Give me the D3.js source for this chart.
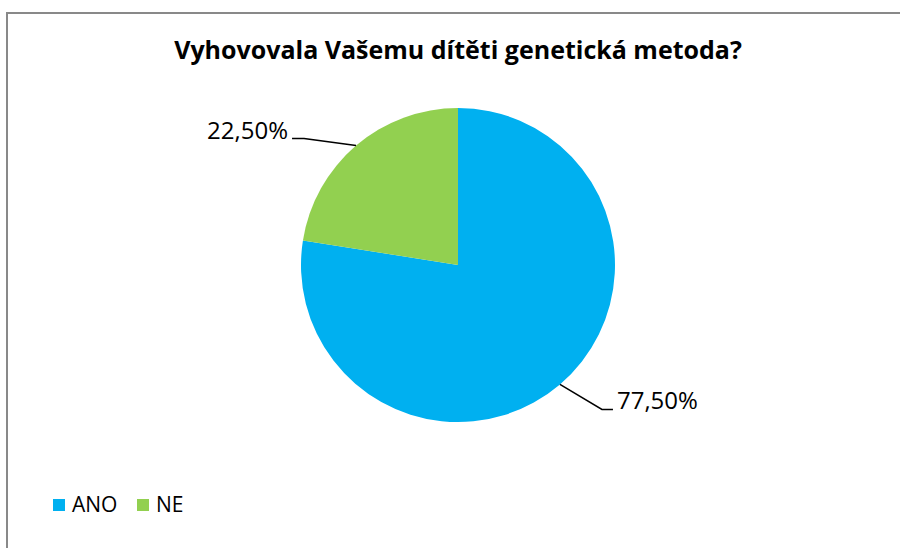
<!DOCTYPE html>
<meta charset="utf-8">
<title>Vyhovovala Vašemu dítěti genetická metoda?</title>
<style>
body { margin: 0; background: #fff; }
svg { display: block; }
text { font-family: "Open Sans", "Liberation Sans", sans-serif; fill: #000; }
</style>
<svg width="900" height="548"></svg>
<script src="https://cdn.jsdelivr.net/npm/d3@7"></script>
<script>

// chart data
var categories = ["ANO", "NE"];
var values = [77.5, 22.5];
var colors = ["#00B0F0", "#92D050"];
var title = "Vyhovovala Vašemu dítěti genetická metoda?";

var svg = d3.select("svg"),
    width = +svg.attr("width"),
    height = +svg.attr("height");

// czech number format, comma as decimal mark
var cz = d3.formatLocale({decimal: ",", thousands: " ", grouping: [3], currency: ["", " Kč"]});
var fmt = function(v) { return cz.format(".2f")(v) + "%"; };

// chart area frame (runs off the right and bottom edge)
svg.append("rect")
    .attr("x", 7)
    .attr("y", 13)
    .attr("width", width + 20)
    .attr("height", height + 20)
    .attr("fill", "none")
    .attr("stroke", "#898989")
    .attr("stroke-width", 2);

svg.append("text")
    .attr("x", 458)
    .attr("y", 59)
    .attr("text-anchor", "middle")
    .attr("font-weight", "bold")
    .attr("font-size", 25)
    .text(title);

var cx = 458, cy = 265, r = 157;

var pie = d3.pie().sort(null).value(function(d) { return d; });
var arcs = pie(values);
var arc = d3.arc().innerRadius(0).outerRadius(r);
var edge = d3.arc().innerRadius(r).outerRadius(r);

var g = svg.append("g").attr("transform", "translate(" + cx + "," + cy + ")");

g.selectAll("path")
  .data(arcs)
  .enter().append("path")
    .attr("d", arc)
    .attr("fill", function(d, i) { return colors[i]; });

// leader line elbows, relative to the slice edge point
var elbow = [[42, 25], [-52, -7]];
var tail = [11, -12];

arcs.forEach(function(d, i) {
  var p = edge.centroid(d);
  var e = [p[0] + elbow[i][0], p[1] + elbow[i][1]];
  var t = [e[0] + tail[i], e[1]];
  g.append("polyline")
    .attr("points", [p, e, t].map(function(q) { return q.join(","); }).join(" "))
    .attr("fill", "none")
    .attr("stroke", "#000")
    .attr("stroke-width", 1.5);
  g.append("text")
    .attr("x", t[0] + (tail[i] > 0 ? 4 : -4))
    .attr("y", t[1])
    .attr("text-anchor", tail[i] > 0 ? "start" : "end")
    .attr("font-size", 24)
    .text(fmt(values[i]));
});

// legend
var legend = svg.append("g").attr("transform", "translate(53,499)");
var lx = [0, 84];
categories.forEach(function(c, i) {
  legend.append("rect")
    .attr("x", lx[i])
    .attr("y", 0)
    .attr("width", 12)
    .attr("height", 12)
    .attr("fill", colors[i]);
  legend.append("text")
    .attr("x", lx[i] + 19)
    .attr("y", 13)
    .attr("font-size", 21)
    .text(c);
});

</script>
